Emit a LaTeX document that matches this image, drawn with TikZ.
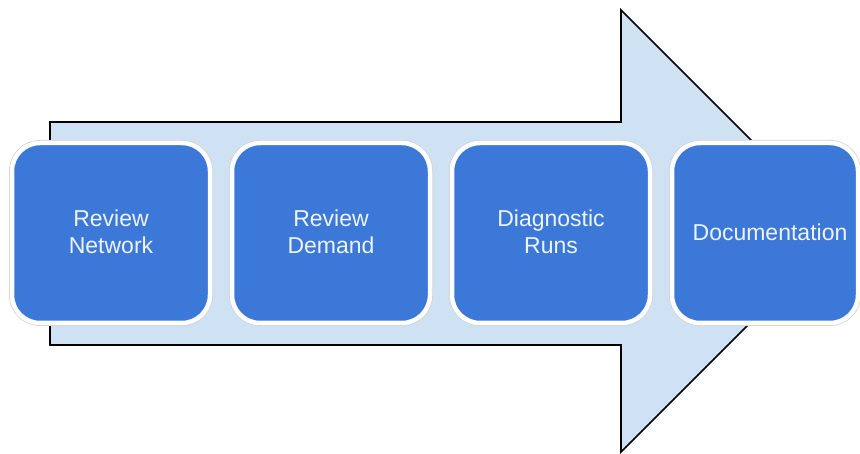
\documentclass[tikz,border=0pt]{standalone}
\usepackage{fontspec}
\setmainfont{Liberation Sans}
\definecolor{boxblue}{HTML}{3C78D8}
\definecolor{arrowfill}{HTML}{CFE2F3}
\definecolor{lbltext}{HTML}{EEF3FC}
\begin{document}
\begin{tikzpicture}[x=1pt,y=-1pt,
  stepbox/.style={rounded corners=28pt, fill=boxblue, draw=white, line width=4.5pt},
  boxshadow/.style={rounded corners=28pt, draw=black!18, line width=6pt},
  lbl/.style={text=lbltext, font=\fontsize{23}{27}\selectfont, align=center}]
\useasboundingbox (0,0) rectangle (860,454);
\draw[fill=arrowfill, draw=black, line width=1.6pt, line join=miter]
  (50,122) -- (621,122) -- (621,10) -- (842,231) -- (621,452) -- (621,345) -- (50,345) -- cycle;
\foreach \x/\w in {12/198, 232/198, 452/198, 672/186} {
  \draw[boxshadow] (\x,143) rectangle (\x+\w,323);
  \draw[stepbox] (\x,143) rectangle (\x+\w,323);
}
\node[lbl] (n1) at (111,232) {Review\\Network};
\node[lbl] (n2) at (331,232) {Review\\Demand};
\node[lbl] (n3) at (551,232) {Diagnostic\\Runs};
\node[lbl] (n4) at (770,232) {Documentation};
\end{tikzpicture}
\end{document}
